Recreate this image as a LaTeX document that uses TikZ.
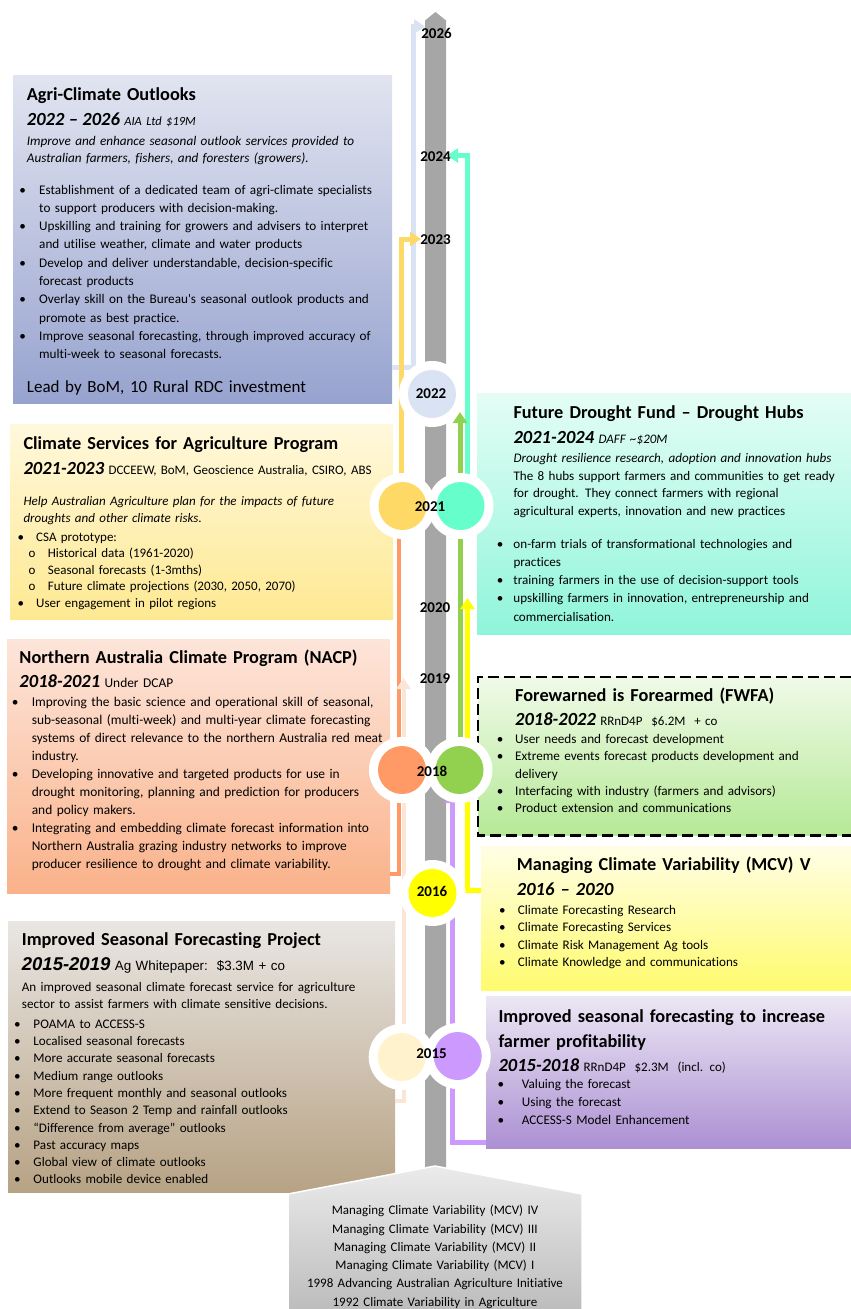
\documentclass[tikz,border=0pt]{standalone}
\usepackage{fontspec}
\setmainfont{Carlito}[Ligatures={TeX,CommonOff}]
\newfontfamily\arialfont{Liberation Sans}
\usetikzlibrary{arrows.meta}

% panel shading
\definecolor{spinegray}{HTML}{A6A6A6}
\definecolor{agritop}{HTML}{E1E4F0}
\definecolor{agribot}{HTML}{97A3CF}
\definecolor{csatop}{HTML}{FFF8DC}
\definecolor{csabot}{HTML}{FEE992}
\definecolor{nacptop}{HTML}{FDE5DA}
\definecolor{nacpbot}{HTML}{FAB28A}
\definecolor{isfptop}{HTML}{E9E6E3}
\definecolor{isfpbot}{HTML}{B7A284}
\definecolor{fdftop}{HTML}{E4FDF5}
\definecolor{fdfbot}{HTML}{8FF5DA}
\definecolor{fwfatop}{HTML}{F0FAE8}
\definecolor{fwfabot}{HTML}{B5E996}
\definecolor{mcvtop}{HTML}{FFFEE5}
\definecolor{mcvbot}{HTML}{FFFB6E}
\definecolor{isftop}{HTML}{ECE7F4}
\definecolor{isfbot}{HTML}{AC90D3}
\definecolor{histtop}{HTML}{EBEBEB}
\definecolor{histbot}{HTML}{BDBDBD}
% year dots
\definecolor{yr22}{HTML}{DAE3F3}
\definecolor{yr21a}{HTML}{FFD966}
\definecolor{yr21b}{HTML}{66FFCC}
\definecolor{yr18a}{HTML}{FF9966}
\definecolor{yr18b}{HTML}{92D050}
\definecolor{yr16}{HTML}{FFFF00}
\definecolor{yr15a}{HTML}{FFF2CC}
\definecolor{yr15b}{HTML}{CC99FF}
\definecolor{palepeach}{HTML}{FBE5D6}

\pgfdeclarelayer{back}
\pgfdeclarelayer{lines}
\pgfsetlayers{back,lines,main}

\newlength{\bind}
\newcommand{\ttl}{\fontsize{18.3}{25}\selectfont\bfseries}
\newcommand{\yrf}{\fontsize{18.5}{23}\selectfont\bfseries\itshape}
\newcommand{\bodyf}[2][18]{\fontsize{#2}{#1}\selectfont}
\newcommand{\bl}{\makebox[\bind][l]{\textbullet}}
\newcommand{\cl}{\hspace*{\bind}}

\tikzset{
  panel/.style 2 args={anchor=north west, inner sep=0pt, minimum width=#1pt, minimum height=#2pt},
  blk/.style={anchor=base west, inner sep=0pt, text width=#1, align=left, font={\bodyf{13.2}}},
  blk/.default=380pt,
  yrlbl/.style={inner sep=0.5pt, font=\fontsize{15}{18}\selectfont\bfseries},
  yrdot/.style={circle, fill=#1, minimum size=48pt, inner sep=0pt},
  conn/.style={line width=5pt, -{Triangle[length=11pt,width=14pt]}},
}

\begin{document}
\begin{tikzpicture}[x=1pt,y=-1pt]
\useasboundingbox (0,0) rectangle (851,1309);

\begin{pgfonlayer}{back}
% Panels
\node[panel={379}{328}, top color=agritop, bottom color=agribot] (agri) at (13,75) {};
\node[panel={383}{195}, top color=csatop, bottom color=csabot] (csa) at (10,424) {};
\node[panel={383}{254}, top color=nacptop, bottom color=nacpbot] (nacp) at (7,639) {};
\node[panel={387}{271}, top color=isfptop, bottom color=isfpbot] (isfp) at (8,921) {};
\node[panel={374}{241}, top color=fdftop, bottom color=fdfbot] (fdf) at (477,393) {};
\node[panel={373}{158}, top color=fwfatop, bottom color=fwfabot] (fwfa) at (478,677) {};
\node[panel={370}{144}, top color=mcvtop, bottom color=mcvbot] (mcv) at (481,846) {};
\node[panel={365}{152}, top color=isftop, bottom color=isfbot] (isf) at (486,996) {};
\draw[black, line width=2.6pt, dash pattern=on 11pt off 5pt] (fwfa.north east) -- (fwfa.north west) -- (fwfa.south west) -- (fwfa.south east);

% Agri-Climate Outlooks
\node[blk, font=\ttl] (agriT) at (26.7,100) {Agri-Climate Outlooks};
\node[blk] (agriY) at (26.7,125) {{\yrf 2022 – 2026} {\fontsize{12.5}{15}\selectfont\itshape AIA Ltd \$19M}};
\node[blk, font={\bodyf[17.6]{13.2}\itshape}] (agriD) at (26.7,145.2) {Improve and enhance seasonal outlook services provided to\\Australian farmers, fishers, and foresters (growers).};
\node[blk, font={\bodyf[18.26]{13.2}}] (agriB) at (19.3,194.2) {\setlength{\bind}{19.7pt}%
\bl Establishment of a dedicated team of agri-climate specialists\\
\cl to support producers with decision-making.\\
\bl Upskilling and training for growers and advisers to interpret\\
\cl and utilise weather, climate and water products\\
\bl Develop and deliver understandable, decision-specific\\
\cl forecast products\\
\bl Overlay skill on the Bureau\textquotesingle s seasonal outlook products and\\
\cl promote as best practice.\\
\bl Improve seasonal forecasting, through improved accuracy of\\
\cl multi-week to seasonal forecasts.};
\node[blk, font=\fontsize{17}{20}\selectfont] (agriL) at (26.7,392.3) {Lead by BoM, 10 Rural RDC investment};

% Climate Services for Agriculture
\node[blk, font=\ttl] (csaT) at (23.3,449.3) {Climate Services for Agriculture Program};
\node[blk, font={\bodyf{13.0}}] (csaY) at (23.3,474.3) {{\yrf 2021-2023} DCCEEW, BoM, Geoscience Australia, CSIRO, ABS};
\node[blk, font={\bodyf[17.3]{13.0}\itshape}] (csaD) at (23.3,505.2) {Help Australian Agriculture plan for the impacts of future\\droughts and other climate risks.};
\node[blk, font={\bodyf[16.5]{13.0}}] (csaB) at (17.3,541.4) {\setlength{\bind}{18.7pt}%
\bl CSA prototype:\\
\hspace*{11.2pt}\makebox[19.2pt][l]{o}Historical data (1961-2020)\\
\hspace*{11.2pt}\makebox[19.2pt][l]{o}Seasonal forecasts (1-3mths)\\
\hspace*{11.2pt}\makebox[19.2pt][l]{o}Future climate projections (2030, 2050, 2070)\\
\bl User engagement in pilot regions};

% NACP
\node[blk, font=\ttl] (nacpT) at (19.3,663.3) {Northern Australia Climate Program (NACP)};
\node[blk, font={\bodyf{13.4}}] (nacpY) at (19.3,687.7) {{\yrf 2018-2021} Under DCAP};
\node[blk, font={\bodyf[17.97]{13.4}}] (nacpB) at (11.6,706.5) {\setlength{\bind}{20pt}%
\bl Improving the basic science and operational skill of seasonal,\\
\cl sub-seasonal (multi-week) and multi-year climate forecasting\\
\cl systems of direct relevance to the northern Australia red meat\\
\cl industry.\\
\bl Developing innovative and targeted products for use in\\
\cl drought monitoring, planning and prediction for producers\\
\cl and policy makers.\\
\bl Integrating and embedding climate forecast information into\\
\cl Northern Australia grazing industry networks to improve\\
\cl producer resilience to drought and climate variability.};

% Improved Seasonal Forecasting Project
\node[blk, font=\ttl] (isfpT) at (21.7,945.7) {Improved Seasonal Forecasting Project};
\node[blk, font={\arialfont\fontsize{13.4}{16}\selectfont}] (isfpY) at (21.7,970) {{\bfseries\itshape\fontsize{18.5}{22}\selectfont 2015-2019} Ag Whitepaper:\ \ \$3.3M + co};
\node[blk, font={\bodyf[17.4]{13.1}}] (isfpD) at (21.7,991.5) {An improved seasonal climate forecast service for agriculture\\sector to assist farmers with climate sensitive decisions.};
\node[blk, font={\bodyf[17.3]{13.1}}] (isfpB) at (13.9,1028.2) {\setlength{\bind}{19.4pt}%
\bl POAMA to ACCESS-S\\
\bl Localised seasonal forecasts\\
\bl More accurate seasonal forecasts\\
\bl Medium range outlooks\\
\bl More frequent monthly and seasonal outlooks\\
\bl Extend to Season 2 Temp and rainfall outlooks\\
\bl “Difference from average” outlooks\\
\bl Past accuracy maps\\
\bl Global view of climate outlooks\\
\bl Outlooks mobile device enabled};

% Future Drought Fund
\node[blk, font=\ttl] (fdfT) at (513.3,418.3) {Future Drought Fund – Drought Hubs};
\node[blk=345pt] (fdfY) at (513.3,443.3) {{\yrf 2021-2024} {\itshape\fontsize{13}{16}\selectfont DAFF \textasciitilde\$20M}};
\node[blk=345pt, font={\bodyf[17.5]{13.1}}] (fdfD) at (513.3,462.5) {\textit{Drought resilience research, adoption and innovation hubs}\\
The 8 hubs support farmers and communities to get ready\\
for drought. They connect farmers with regional\\
agricultural experts, innovation and new practices};
\node[blk=345pt, font={\bodyf[18.2]{13.1}}] (fdfB) at (496.6,548.2) {\setlength{\bind}{16.7pt}%
\bl on-farm trials of transformational technologies and\\
\cl practices\\
\bl training farmers in the use of decision-support tools\\
\bl upskilling farmers in innovation, entrepreneurship and\\
\cl commercialisation.};

% Forewarned is Forearmed
\node[blk=330pt, font=\ttl] (fwfaT) at (515,701.7) {Forewarned is Forearmed (FWFA)};
\node[blk=330pt] (fwfaY) at (515,725) {{\yrf 2018-2022} {\fontsize{13}{16}\selectfont RRnD4P\ \ \$6.2M\ \ + co}};
\node[blk=345pt, font={\bodyf[17.15]{13.2}}] (fwfaB) at (496.6,743.8) {\setlength{\bind}{18.4pt}%
\bl User needs and forecast development\\
\bl Extreme events forecast products development and\\
\cl delivery\\
\bl Interfacing with industry (farmers and advisors)\\
\bl Product extension and communications};

% Managing Climate Variability V
\node[blk=330pt, font=\ttl] (mcvT) at (516.7,870.7) {Managing Climate Variability (MCV) V};
\node[blk=330pt, font=\yrf] (mcvY) at (516.7,895) {2016 – 2020};
\node[blk=345pt, font={\bodyf[17.45]{13.1}}] (mcvB) at (498.9,914.1) {\setlength{\bind}{18.8pt}%
\bl Climate Forecasting Research\\
\bl Climate Forecasting Services\\
\bl Climate Risk Management Ag tools\\
\bl Climate Knowledge and communications};

% Improved seasonal forecasting to increase farmer profitability
\node[blk=350pt, font=\ttl] (isfT) at (498.3,1022.3) {Improved seasonal forecasting to increase\\farmer profitability};
\node[blk=350pt] (isfY) at (498.3,1071) {{\yrf 2015-2018} {\fontsize{13}{16}\selectfont RRnD4P\ \ \$2.3M\ \ (incl. co)}};
\node[blk=350pt, font={\bodyf[17.65]{13.2}}] (isfB) at (497.3,1088.8) {\setlength{\bind}{24.4pt}%
\bl Valuing the forecast\\
\bl Using the forecast\\
\bl ACCESS-S Model Enhancement};
\end{pgfonlayer}

% Year dots with white rings
\coordinate (p22) at (432,394);
\coordinate (p21a) at (402.5,506);
\coordinate (p21b) at (460.5,506);
\coordinate (p18a) at (402,770);
\coordinate (p18b) at (459.5,770);
\coordinate (p16) at (432.5,893);
\coordinate (p15a) at (401.7,1057);
\coordinate (p15b) at (457.7,1056);
\foreach \p in {p22,p21a,p21b,p18a,p18b,p16,p15a,p15b}
  \fill[white] (\p) circle[radius=33pt];
\node[yrdot=yr22] (c2022) at (p22) {};
\node[yrdot=yr21a] (c2021a) at (p21a) {};
\node[yrdot=yr21b] (c2021b) at (p21b) {};
\node[yrdot=yr18a] (c2018a) at (p18a) {};
\node[yrdot=yr18b] (c2018b) at (p18b) {};
\node[yrdot=yr16] (c2016) at (p16) {};
\node[yrdot=yr15a] (c2015a) at (p15a) {};
\node[yrdot=yr15b] (c2015b) at (p15b) {};

% Year labels
\node[yrlbl] (y2026) at (436.5,33.3) {2026};
\node[yrlbl] (y2024) at (435.5,156.7) {2024};
\node[yrlbl] (y2023) at (435.5,240) {2023};
\node[yrlbl] (y2022) at (431,393.5) {2022};
\node[yrlbl] (y2021) at (430,506.5) {2021};
\node[yrlbl] (y2020) at (435,607.5) {2020};
\node[yrlbl] (y2019) at (435,678.5) {2019};
\node[yrlbl] (y2018) at (432,771) {2018};
\node[yrlbl] (y2016) at (432,891) {2016};
\node[yrlbl] (y2015) at (431.5,1054) {2015};

% Earlier programs
\node[anchor=base, inner sep=0pt, text width=290pt, align=center, font=\fontsize{13}{18.3}\selectfont] (hist) at (435,1214.7) {Managing Climate Variability (MCV) IV\\
Managing Climate Variability (MCV) III\\
Managing Climate Variability (MCV) II\\
Managing Climate Variability (MCV) I\\
1998 Advancing Australian Agriculture Initiative\\
1992 Climate Variability in Agriculture};

% Arrow ends
\coordinate (t2026) at (425,26.5);
\coordinate (t2024) at (447,155.5);
\coordinate (t2023) at (421,239);
\coordinate (t2022) at (460,412);
\coordinate (t2020) at (467.5,598);
\coordinate (t2019) at (403.5,678);
\coordinate (t2018) at (452,792);

\begin{pgfonlayer}{lines}
% Spine
\fill[spinegray] (425,1172) -- (425,20.5) -- (435.5,12) -- (446,20.5) -- (446,1172) -- cycle;
% Base block
\shade[top color=histtop, bottom color=histbot] (288,1309) -- (288,1194) -- (435,1166) -- (582,1194) -- (582,1309) -- cycle;
\draw[white, line width=1.5pt] (288,1309) -- (288,1194) -- (435,1166) -- (582,1194) -- (582,1309);
% Program spans
\draw[conn, draw=yr22] (agri.east |- 0,367) -| ([xshift=-12pt]t2026) -- (t2026);
\draw[conn, draw=yr21a] ([xshift=-1pt]c2021a.north) |- (t2023);
\draw[conn, draw=yr21b] ([xshift=7pt]c2021b.north) |- (t2024);
\draw[conn, draw=yr18b] (c2018b.north -| t2022) -- (t2022);
\draw[conn, draw=yr16] (mcv.west |- 0,890) -| (t2020);
\draw[conn, draw=yr15b] (isf.west |- 0,1142.5) -| (t2018);
\draw[conn, draw=yr18a, line width=4pt] (nacp.east |- 0,874) -| ([xshift=-3.5pt]c2021a.center);
\draw[conn, draw=palepeach, line width=4pt] (isfp.east |- 0,1101) -| (t2019);
\end{pgfonlayer}
\end{tikzpicture}
\end{document}
